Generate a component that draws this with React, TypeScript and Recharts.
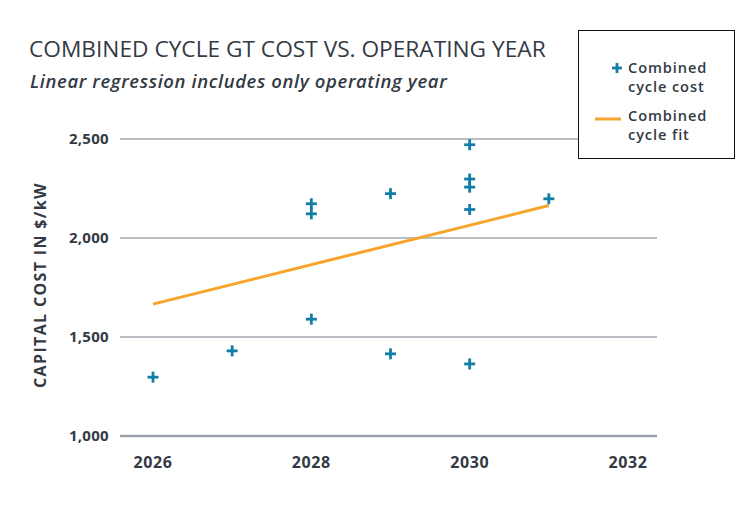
import React from 'react';
import { ScatterChart, Scatter, XAxis, YAxis, CartesianGrid, ReferenceLine } from 'recharts';

const costYears = [2026, 2027, 2028, 2028, 2028, 2029, 2029, 2030, 2030, 2030, 2030, 2030, 2031];
const costValues = [1297, 1430, 1590, 2173, 2122, 2224, 1415, 2471, 2298, 2257, 2144, 1364, 2198];
const fitYears = [2026, 2031];
const fitValues = [1666, 2164];
const xTicks = [2026, 2028, 2030, 2032];
const yTicks = [1000, 1500, 2000, 2500];

const costData = costYears.map((x, i) => ({ x, y: costValues[i] }));
const fitData = fitYears.map((x, i) => ({ x, y: fitValues[i] }));

const BLUE = '#127ea6';
const ORANGE = '#f5a52b';
const TEXT = '#333a44';
const FONT = '"Open Sans", "Noto Sans", sans-serif';

const Plus = (props: any) => {
  const { cx, cy } = props;
  if (cx == null || cy == null) return <g />;
  const h = 5.5;
  return (
    <g>
      <line x1={cx - h} y1={cy} x2={cx + h} y2={cy} stroke={BLUE} strokeWidth={2.8} />
      <line x1={cx} y1={cy - h} x2={cx} y2={cy + h} stroke={BLUE} strokeWidth={2.8} />
    </g>
  );
};

const NoShape = () => <g />;

const legendText: React.CSSProperties = {
  position: 'absolute',
  left: 49,
  fontSize: 14.6,
  fontWeight: 600,
  color: TEXT,
  lineHeight: '19px',
  height: 19,
  letterSpacing: 0.9,
  whiteSpace: 'nowrap',
};

export default function App() {
  return (
    <div style={{ position: 'absolute', left: 0, top: 0, width: 747, height: 517, background: '#fff', fontFamily: FONT, overflow: 'hidden' }}>
      <div style={{ position: 'absolute', left: 29, top: 33, fontSize: 22.7, color: TEXT, fontWeight: 400, whiteSpace: 'nowrap', letterSpacing: 0 }}>
        COMBINED CYCLE GT COST VS. OPERATING YEAR
      </div>
      <div style={{ position: 'absolute', left: 30, top: 68, fontSize: 18.5, color: TEXT, fontWeight: 600, fontStyle: 'italic', whiteSpace: 'nowrap', letterSpacing: 0.6 }}>
        Linear regression includes only operating year
      </div>
      <div style={{ position: 'absolute', left: 40, top: 285, transform: 'translate(-50%, -50%) rotate(-90deg)', fontSize: 16, fontWeight: 700, color: TEXT, whiteSpace: 'nowrap', letterSpacing: 1.35 }}>
        CAPITAL COST IN $/kW
      </div>
      <div style={{ position: 'absolute', left: 0, top: 0 }}>
        <ScatterChart width={747} height={517} margin={{ top: 139, right: 90, bottom: 51, left: 0 }}>
          <CartesianGrid vertical={false} stroke="#b9bdc4" strokeWidth={2} />
          <XAxis
            type="number"
            dataKey="x"
            domain={[2026, 2032]}
            ticks={xTicks}
            padding={{ left: 33, right: 29 }}
            axisLine={false}
            tickLine={false}
            height={30}
            tickMargin={15}
            tick={{ fill: TEXT, fontSize: 16, fontWeight: 700, fontFamily: FONT, letterSpacing: 0.6 }}
            interval={0}
          />
          <YAxis
            type="number"
            dataKey="y"
            domain={[1000, 2500]}
            ticks={yTicks}
            width={120}
            axisLine={false}
            tickLine={false}
            tickMargin={5}
            tickFormatter={(v: number) => v.toLocaleString('en-US')}
            tick={{ fill: TEXT, fontSize: 15, fontWeight: 700, fontFamily: FONT, letterSpacing: 0.3 }}
            interval={0}
          />
          <ReferenceLine y={1000} stroke="#9aa0a8" strokeWidth={2.5} />
          <Scatter data={fitData} line={{ stroke: ORANGE, strokeWidth: 3 }} shape={NoShape} isAnimationActive={false} />
          <Scatter data={costData} shape={Plus} isAnimationActive={false} />
        </ScatterChart>
      </div>
      <div style={{ position: 'absolute', left: 578, top: 30, width: 157, height: 129, border: '1.5px solid #111', background: '#fff', boxSizing: 'border-box' }}>
        <svg width={20} height={14} style={{ position: 'absolute', left: 29, top: 30 }}>
          <line x1={4} y1={7} x2={14} y2={7} stroke={BLUE} strokeWidth={2.8} />
          <line x1={9} y1={2} x2={9} y2={12} stroke={BLUE} strokeWidth={2.8} />
        </svg>
        <div style={{ ...legendText, top: 27 }}>Combined</div>
        <div style={{ ...legendText, top: 46 }}>cycle cost</div>
        <svg width={30} height={6} style={{ position: 'absolute', left: 16, top: 85 }}>
          <line x1={0} y1={3} x2={26} y2={3} stroke={ORANGE} strokeWidth={3} />
        </svg>
        <div style={{ ...legendText, top: 75 }}>Combined</div>
        <div style={{ ...legendText, top: 94 }}>cycle fit</div>
      </div>
    </div>
  );
}
